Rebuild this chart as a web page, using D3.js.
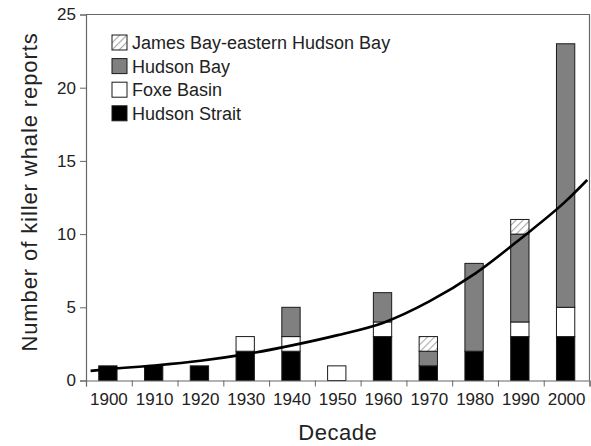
<!DOCTYPE html>
<html>
<head>
<meta charset="utf-8">
<script src="https://cdn.jsdelivr.net/npm/d3@7"></script>
<style>
  html, body { margin: 0; padding: 0; background: #fff; }
  svg { display: block; font-family: "Liberation Sans", Arial, Helvetica, sans-serif; }
</style>
</head>
<body>
<svg id="chart" width="591" height="446"></svg>
<script>
// Killer whale reports per decade, stacked by region
const decades = ["1900","1910","1920","1930","1940","1950","1960","1970","1980","1990","2000"];
const hudsonStrait = [1, 1, 1, 2, 2, 0, 3, 1, 2, 3, 3];
const foxeBasin    = [0, 0, 0, 1, 1, 1, 1, 0, 0, 1, 2];
const hudsonBay    = [0, 0, 0, 0, 2, 0, 2, 1, 6, 6, 18];
const jamesBay     = [0, 0, 0, 0, 0, 0, 0, 1, 0, 1, 0];

// Exponential trend line, sampled along the decade axis
const trendYears  = [1896, 1900, 1910, 1920, 1930, 1940, 1950, 1960, 1970, 1980, 1990, 2000, 2004.5];
const trendValues = [0.66, 0.78, 1.03, 1.35, 1.8, 2.4, 3.1, 3.95, 5.4, 7.3, 9.7, 12.3, 13.7];

const yTicks = [0, 5, 10, 15, 20, 25];

const seriesKeys  = ["hs", "fb", "hb", "jb"];
const seriesNames = {
  jb: "James Bay-eastern Hudson Bay",
  hb: "Hudson Bay",
  fb: "Foxe Basin",
  hs: "Hudson Strait"
};
const legendOrder = ["jb", "hb", "fb", "hs"];

const rows = decades.map((d, i) => ({
  decade: d,
  hs: hudsonStrait[i],
  fb: foxeBasin[i],
  hb: hudsonBay[i],
  jb: jamesBay[i]
}));

const svg = d3.select("#chart");
const plot = { left: 86, right: 589.5, top: 14.5, bottom: 380.5 };

// Hatched fill for James Bay
const defs = svg.append("defs");
const pat = defs.append("pattern")
  .attr("id", "hatch")
  .attr("patternUnits", "userSpaceOnUse")
  .attr("width", 5).attr("height", 5)
  .attr("patternTransform", "rotate(45)");
pat.append("rect").attr("width", 5).attr("height", 5).attr("fill", "#fff");
pat.append("line")
  .attr("x1", 0).attr("y1", 0).attr("x2", 0).attr("y2", 5)
  .attr("stroke", "#a8a8a8").attr("stroke-width", 2.2);

const fills = { hs: "#000", fb: "#fff", hb: "#808080", jb: "url(#hatch)" };

const x = d3.scaleBand().domain(decades).range([plot.left, plot.right]).padding(0);
const xYear = d3.scaleLinear().domain([1895, 2005]).range([plot.left, plot.right]);
const y = d3.scaleLinear().domain([0, 25]).range([plot.bottom, plot.top]);

const stacked = d3.stack().keys(seriesKeys)(rows);

const barW = x.bandwidth() * 0.4;

// Stacked bars
const layers = svg.append("g").selectAll("g")
  .data(stacked)
  .join("g")
  .attr("fill", d => fills[d.key]);

layers.selectAll("rect")
  .data(d => d.filter(s => s[1] - s[0] > 0))
  .join("rect")
  .attr("x", d => x(d.data.decade) + (x.bandwidth() - barW) / 2 - 1)
  .attr("width", barW)
  .attr("y", d => y(d[1]))
  .attr("height", d => y(d[0]) - y(d[1]))
  .attr("stroke", "#1a1a1a")
  .attr("stroke-width", 1);

// Frame: top and right borders
svg.append("path")
  .attr("d", `M${plot.left},${plot.top}H${plot.right}V${plot.bottom}`)
  .attr("fill", "none")
  .attr("stroke", "#666")
  .attr("stroke-width", 1.2);

// Y axis
const yAxis = svg.append("g")
  .attr("transform", `translate(${plot.left},0)`)
  .call(d3.axisLeft(y).tickValues(yTicks).tickSize(6).tickPadding(4));
yAxis.select(".domain").attr("stroke", "#666").attr("stroke-width", 1.2);
yAxis.selectAll(".tick line").attr("stroke", "#666");
yAxis.selectAll(".tick text")
  .attr("font-size", 17)
  .attr("fill", "#222")
  .attr("font-family", "Liberation Sans, Arial, sans-serif");

// X axis: ticks between decades, labels centred under bars
const xTickYears = d3.range(1895, 2006, 10);
const xAxis = svg.append("g")
  .attr("transform", `translate(0,${plot.bottom})`)
  .call(d3.axisBottom(xYear).tickValues(xTickYears).tickSize(6).tickFormat(""));
xAxis.select(".domain").attr("stroke", "#666").attr("stroke-width", 1.2);
xAxis.selectAll(".tick line").attr("stroke", "#666");

const xLabels = svg.append("g")
  .attr("transform", `translate(0,${plot.bottom})`)
  .call(d3.axisBottom(x).tickSize(0).tickPadding(12));
xLabels.select(".domain").remove();
xLabels.selectAll(".tick text")
  .attr("font-size", 17)
  .attr("fill", "#222")
  .attr("font-family", "Liberation Sans, Arial, sans-serif");

// Trend curve
const line = d3.line()
  .x((d, i) => xYear(trendYears[i]))
  .y(d => y(d))
  .curve(d3.curveMonotoneX);
svg.append("path")
  .datum(trendValues)
  .attr("d", line)
  .attr("fill", "none")
  .attr("stroke", "#000")
  .attr("stroke-width", 2.6);

// Axis titles
svg.append("text")
  .attr("x", (plot.left + plot.right) / 2)
  .attr("y", 440)
  .attr("text-anchor", "middle")
  .attr("font-size", 22)
  .attr("letter-spacing", 0.5)
  .attr("fill", "#222")
  .text("Decade");

svg.append("text")
  .attr("transform", "translate(37,192) rotate(-90)")
  .attr("text-anchor", "middle")
  .attr("font-size", 22)
  .attr("letter-spacing", 0.9)
  .attr("fill", "#222")
  .text("Number of killer whale reports");

// Legend
const legend = svg.append("g").attr("transform", "translate(112,35)");
const items = legend.selectAll("g")
  .data(legendOrder)
  .join("g")
  .attr("transform", (d, i) => `translate(0,${i * 23.6})`);
items.append("rect")
  .attr("width", 15).attr("height", 15)
  .attr("fill", d => fills[d])
  .attr("stroke", "#1a1a1a")
  .attr("stroke-width", 1);
items.append("text")
  .attr("x", 20)
  .attr("y", 14)
  .attr("font-size", 18)
  .attr("fill", "#222")
  .text(d => seriesNames[d]);
</script>
</body>
</html>
